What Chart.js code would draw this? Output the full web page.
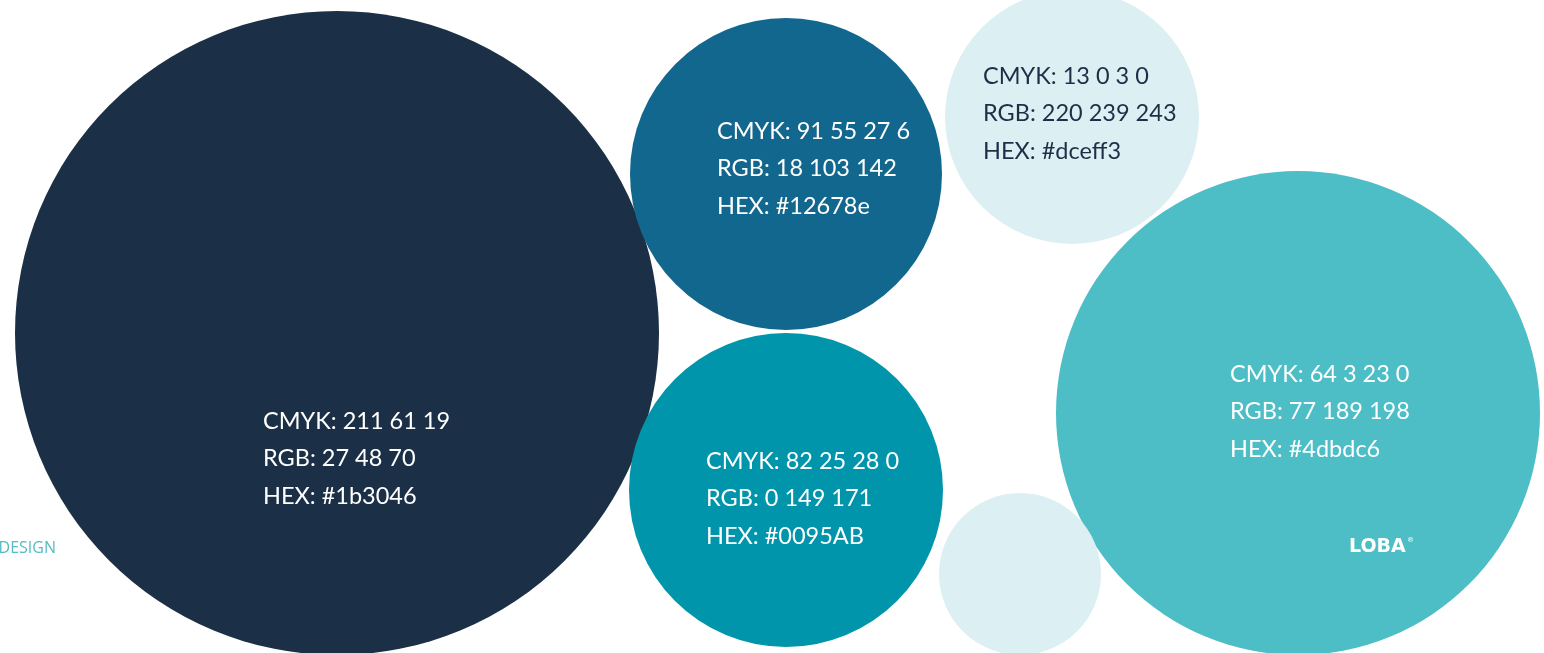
<!DOCTYPE html>
<html lang="en">
<head>
    <meta charset="UTF-8">
    <title>Colour palette</title>
    <script src="https://cdn.jsdelivr.net/npm/chart.js@4/dist/chart.umd.min.js"></script>
    <style>
        * {
            margin: 0;
            padding: 0;
            box-sizing: border-box;
        }

        body {
            background: #ffffff;
        }

        .chart-wrap {
            position: relative;
            width: 1544px;
            height: 653px;
        }
    </style>
</head>
<body>
    <div class="chart-wrap">
        <canvas id="paletteChart"></canvas>
    </div>

    <script>
        // Palette swatches (bubble centre x / y and radius, in picture units)
        const swatchNames = ['navy', 'blue', 'ice', 'teal', 'aqua', 'iceSmall'];
        const swatchX = [337, 786, 1072, 786, 1298, 1020];
        const swatchY = [333, 174, 117, 490, 413, 574];
        const swatchR = [322, 156, 127, 157, 242, 81];
        const swatchHex = ['#1b3046', '#12678e', '#dceff3', '#0095ab', '#4dbdc6', '#dceff3'];

        // Text printed inside each swatch
        const cmykLabels = ['CMYK: 211 61 19', 'CMYK: 91 55 27 6', 'CMYK: 13 0 3 0', 'CMYK: 82 25 28 0', 'CMYK: 64 3 23 0', ''];
        const rgbLabels = ['RGB: 27 48 70', 'RGB: 18 103 142', 'RGB: 220 239 243', 'RGB: 0 149 171', 'RGB: 77 189 198', ''];
        const hexLabels = ['HEX: #1b3046', 'HEX: #12678e', 'HEX: #dceff3', 'HEX: #0095AB', 'HEX: #4dbdc6', ''];

        // where the text block sits, relative to the bubble centre (px)
        const labelOffsets = [[-74, 88], [-69, -43], [-89, -41], [-80, -29], [-68, -39], null];
        const labelColors = ['#ffffff', '#ffffff', '#1b3046', '#ffffff', '#ffffff', null];
        const lineGap = 37.5;

        const labelPlugin = {
            id: 'swatchLabels',
            afterDatasetsDraw(chart) {
                const ctx = chart.ctx;
                const xs = chart.scales.x;
                const ys = chart.scales.y;
                ctx.save();
                ctx.textBaseline = 'middle';
                ctx.textAlign = 'left';
                ctx.font = '23.5px Lato, "Open Sans", sans-serif';

                swatchNames.forEach((name, i) => {
                    if (!labelOffsets[i]) return;
                    const cx = xs.getPixelForValue(swatchX[i]);
                    const cy = ys.getPixelForValue(swatchY[i]);
                    const tx = cx + labelOffsets[i][0];
                    const ty = cy + labelOffsets[i][1];
                    ctx.fillStyle = labelColors[i];
                    [cmykLabels[i], rgbLabels[i], hexLabels[i]].forEach((line, k) => {
                        ctx.fillText(line, tx, ty + k * lineGap);
                    });
                });

                // brand mark on the aqua swatch
                const ax = xs.getPixelForValue(swatchX[4]);
                const ay = ys.getPixelForValue(swatchY[4]);
                ctx.fillStyle = '#ffffff';
                ctx.font = 'bold 19px "DejaVu Sans", sans-serif';
                ctx.fillText('LOBA', ax + 51, ay + 134);
                ctx.font = '7px "DejaVu Sans", sans-serif';
                ctx.fillText('®', ax + 109, ay + 127);

                // clipped caption at the left edge
                ctx.fillStyle = '#55bcc4';
                ctx.font = '16px "Open Sans", sans-serif';
                ctx.textAlign = 'right';
                ctx.fillText('DESIGN', 56, 548);
                ctx.restore();
            }
        };

        const ctx = document.getElementById('paletteChart').getContext('2d');

        new Chart(ctx, {
            type: 'bubble',
            data: {
                datasets: [{
                    label: 'Palette',
                    data: swatchNames.map((n, i) => ({ x: swatchX[i], y: swatchY[i], r: swatchR[i] })),
                    backgroundColor: swatchHex,
                    borderWidth: 0,
                    hoverRadius: 0,
                    hoverBorderWidth: 0,
                    clip: false
                }]
            },
            options: {
                responsive: true,
                maintainAspectRatio: false,
                animation: false,
                events: [],
                // bubbles would otherwise pad the chart area by their radius
                layout: { padding: 0, autoPadding: false },
                plugins: {
                    legend: { display: false },
                    tooltip: { enabled: false }
                },
                scales: {
                    x: { type: 'linear', min: 0, max: 1544, display: false },
                    y: { type: 'linear', min: 0, max: 653, reverse: true, display: false }
                }
            },
            plugins: [labelPlugin]
        });
    </script>
</body>
</html>
